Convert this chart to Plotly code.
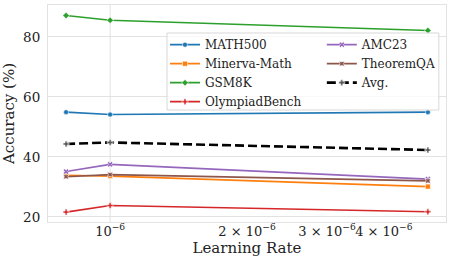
import plotly.graph_objects as go

learning_rates = [8e-7, 1e-6, 5e-6]
math500 = [54.9, 54.1, 54.9]
minerva = [33.9, 33.6, 30.1]
gsm8k = [87.1, 85.5, 82.1]
olympiad = [21.6, 23.8, 21.7]
amc23 = [35.1, 37.5, 32.6]
theoremqa = [33.4, 34.1, 32.0]
avg = [44.3, 44.8, 42.3]

x_tick_vals = [1e-6, 2e-6, 3e-6, 4e-6]
x_tick_text = ["10<sup>−6</sup>", "2 × 10<sup>−6</sup>", "3 × 10<sup>−6</sup>", "4 × 10<sup>−6</sup>"]
y_tick_vals = [20, 40, 60, 80]

serif = "DejaVu Serif"
text_color = "#222222"
grid_color = "#e2e2e2"

series = [
    ("MATH500", math500, "#1f77b4", "circle", "legend"),
    ("Minerva-Math", minerva, "#ff7f0e", "square", "legend"),
    ("GSM8K", gsm8k, "#2ca02c", "diamond", "legend"),
    ("OlympiadBench", olympiad, "#d62728", "cross", "legend"),
    ("AMC23", amc23, "#9467bd", "x", "legend2"),
    ("TheoremQA", theoremqa, "#8c564b", "star-square", "legend2"),
]

fig = go.Figure()
for name, vals, color, sym, leg in series:
    fig.add_trace(go.Scatter(
        x=learning_rates, y=vals, name=name, mode="lines+markers",
        line=dict(color=color, width=1.6),
        marker=dict(symbol=sym, size=5, color=color, line=dict(color="white", width=0.6)),
        legend=leg,
    ))
fig.add_trace(go.Scatter(
    x=learning_rates, y=avg, name="Avg.", mode="lines+markers",
    line=dict(color="black", width=2.6, dash="9px,4px"),
    marker=dict(symbol="cross", size=5, color="#555555", line=dict(color="white", width=0.6)),
    legend="legend2",
))

# vertical gridline only at the major tick 1e-6
fig.add_shape(type="line", xref="x", yref="paper", x0=1e-6, x1=1e-6, y0=0, y1=1,
              line=dict(color=grid_color, width=1), layer="below")
# legend frame shared by both legend columns
fig.add_shape(type="rect", xref="paper", yref="paper", x0=0.299, x1=0.982, y0=0.516, y1=0.871,
              line=dict(color="#d8d8d8", width=1), fillcolor="rgba(255,255,255,0.8)", layer="above")

legend_common = dict(
    yanchor="top", xanchor="left", orientation="v",
    bgcolor="rgba(0,0,0,0)", borderwidth=0,
    font=dict(family=serif, size=12, color=text_color),
    itemwidth=30, tracegroupgap=0,
)

fig.update_layout(
    width=452, height=267,
    margin=dict(l=48, r=6, t=5, b=45),
    paper_bgcolor="white", plot_bgcolor="white",
    font=dict(family=serif, color=text_color),
    legend=dict(x=0.294, y=0.884, **legend_common),
    legend2=dict(x=0.688, y=0.884, **legend_common),
    xaxis=dict(
        type="log",
        range=[-6.1367, -5.2612],
        tickmode="array", tickvals=x_tick_vals, ticktext=x_tick_text,
        showgrid=False, zeroline=False, automargin=False,
        showline=True, mirror=True, linecolor=grid_color, linewidth=1,
        ticks="", ticklabelstandoff=-3, tickangle=0,
        tickfont=dict(family=serif, size=13, color=text_color),
        title=dict(text="Learning Rate", font=dict(family=serif, size=15, color=text_color), standoff=0),
    ),
    yaxis=dict(
        range=[18.3, 90.6],
        tickmode="array", tickvals=y_tick_vals,
        showgrid=True, gridcolor=grid_color, gridwidth=1, zeroline=False, automargin=False,
        showline=True, mirror=True, linecolor=grid_color, linewidth=1,
        ticks="", ticklabelstandoff=4,
        tickfont=dict(family=serif, size=13.5, color=text_color),
        title=dict(text="Accuracy (%)", font=dict(family=serif, size=15, color=text_color), standoff=4),
    ),
)

fig.write_html("out.html", config={"displayModeBar": False},
               post_script="document.body.style.margin='0';document.body.style.padding='0';")
